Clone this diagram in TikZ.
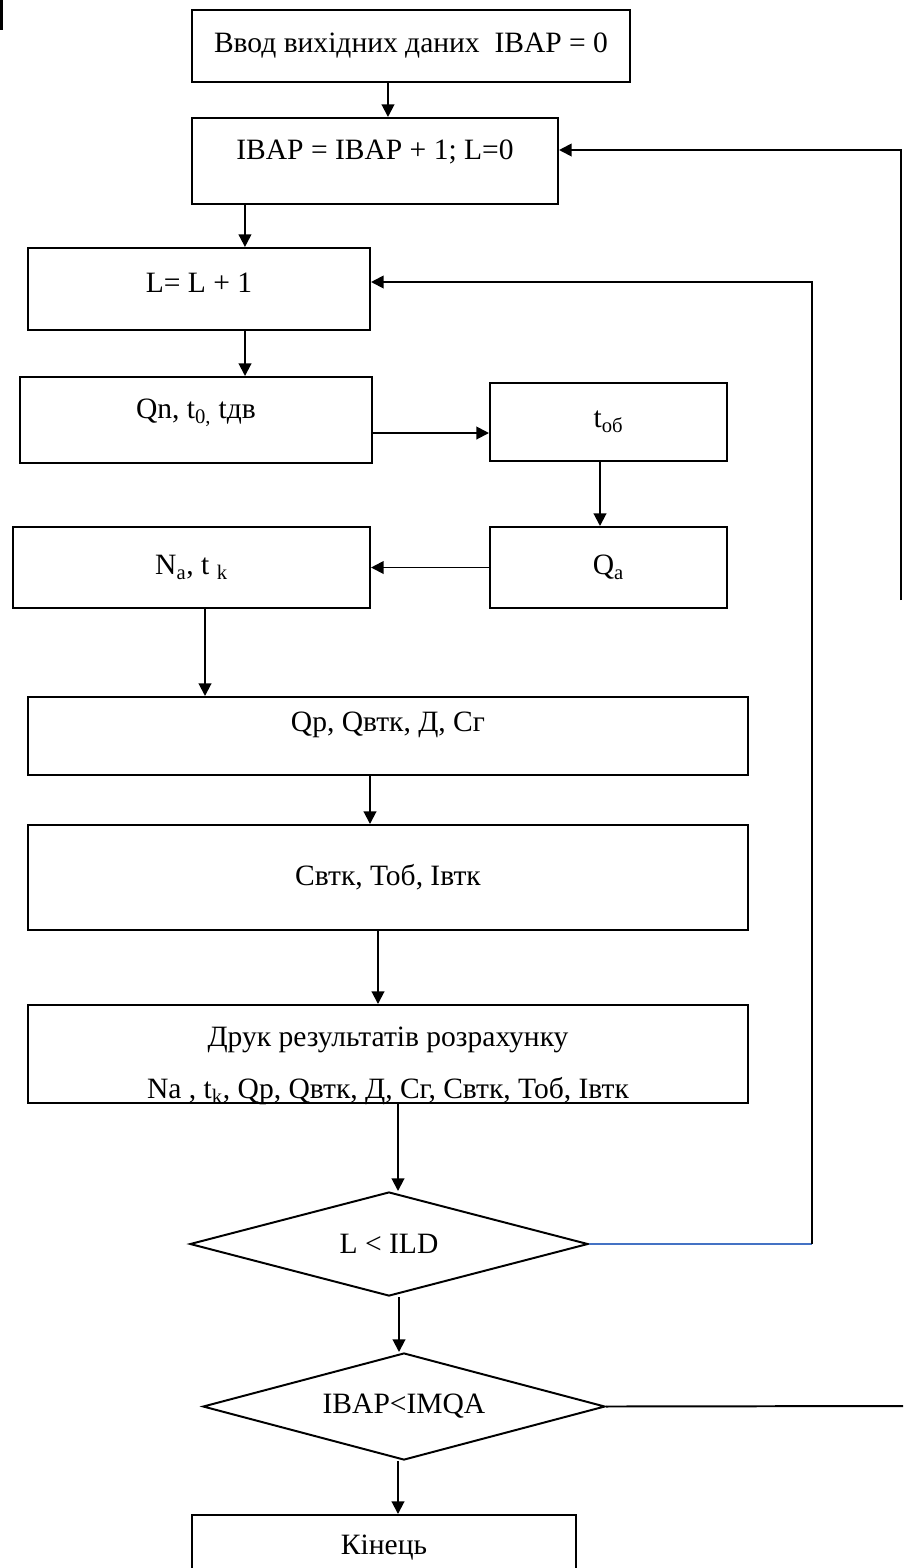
\documentclass[tikz,border=0pt]{standalone}
\usepackage{fontspec}
\setmainfont{Liberation Serif}
\usetikzlibrary{shapes.geometric}
\usetikzlibrary{arrows.meta}
\definecolor{loopblue}{HTML}{4472C4}

\begin{document}
\begin{tikzpicture}[
x=0.025cm, y=-0.025cm,
blok/.style={
draw,
line width=1.4pt,
rectangle,
inner sep=0pt,
font=\fontsize{21}{25}\selectfont},
romb/.style={
blok,
diamond,
aspect=3.8},
up/.style={text depth=#1},
myline/.style={line width=1.4pt},
myarrow/.style={myline,-{Triangle[length=9pt,width=9pt]}}
]
\clip (0,0) rectangle (903,1568);
\fill (0,0) rectangle (3,30);
\node[blok, minimum width=10.95cm, minimum height=1.8cm] (vvod) at (411,46) {Ввод вихідних даних~~IBAP = 0};
\node[blok, up=0.59cm, minimum width=9.15cm, minimum height=2.15cm] (ivar) at (375,161) {IBAP = IBAP + 1; L=0};
\node[blok, up=0.3cm, minimum width=8.55cm, minimum height=2.05cm] (lcount) at (199,289) {L= L + 1};
\node[blok, up=0.54cm, minimum width=8.8cm, minimum height=2.15cm] (qn) at (196,420) {Qn, t\textsubscript{0,} tдв};
\node[blok, minimum width=5.925cm, minimum height=1.95cm] (tob) at (608.5,422) {t\textsubscript{об}};
\node[blok, minimum width=5.925cm, minimum height=2.025cm] (qa) at (608.5,567.5) {Q\textsubscript{a}};
\node[blok, minimum width=8.925cm, minimum height=2.025cm] (na) at (191.5,567.5) {N\textsubscript{a}, t \textsubscript{k}};
\node[blok, up=0.7cm, minimum width=18cm, minimum height=1.95cm] (qp) at (388,736) {Qр, Qвтк, Д, Сг};
\node[blok, minimum width=18cm, minimum height=2.625cm] (svtk) at (388,877.5) {Свтк, Тоб, Iвтк};
\node[blok, text height=2.34cm, up=0.1cm, minimum width=18cm, minimum height=2.45cm, align=center] (druk) at (388,1054) {Друк результатів розрахунку\\[12pt]Na , t\textsubscript{k}, Qр, Qвтк, Д, Сг, Свтк, Тоб, Iвтк};
\node[romb, minimum width=9.95cm, minimum height=2.6cm] (lcheck) at (389,1244) {L < ILD};
\node[romb, minimum width=10.05cm, minimum height=2.675cm] (ivarcheck) at (404,1406.5) {IBAP<IMQA};
\node[blok, up=0.6cm, minimum width=9.6cm, minimum height=2.1cm] (kinets) at (384,1557) {Кінець};

\foreach \i/\j/\s in {
vvod/ivar/-0.575cm,
ivar/lcount/-3.25cm,
lcount/qn/1.15cm,
tob/qa/-0.2125cm,
na/qp/0.3375cm,
qp/svtk/-0.45cm,
svtk/druk/-0.25cm,
druk/lcheck/0.25cm,
lcheck/ivarcheck/0.25cm,
ivarcheck/kinets/-0.15cm}
 \draw[myarrow] ([xshift=\s]\i.south) -- ([xshift=\s]\i.south |- \j.north);

\draw[myarrow] ([yshift=-0.325cm]qn.east) -- ([yshift=-0.325cm]qn.east -| tob.west);
\draw[myarrow] (qa.west) -- (na.east);

% inner loop over L
\coordinate (lturn) at (812,1244);
\draw[myline, loopblue] (lcheck.east) -- (lturn);
\draw[myarrow] (lturn) |- ([yshift=0.175cm]lcount.east);

% outer loop over IBAP
\coordinate (vout) at (903,1406);
\draw[myline] (ivarcheck.east) -- (vout);
\coordinate (vturn) at (901,600);
\draw[myarrow] (vturn) |- ([yshift=0.275cm]ivar.east);
\end{tikzpicture}
\end{document}
